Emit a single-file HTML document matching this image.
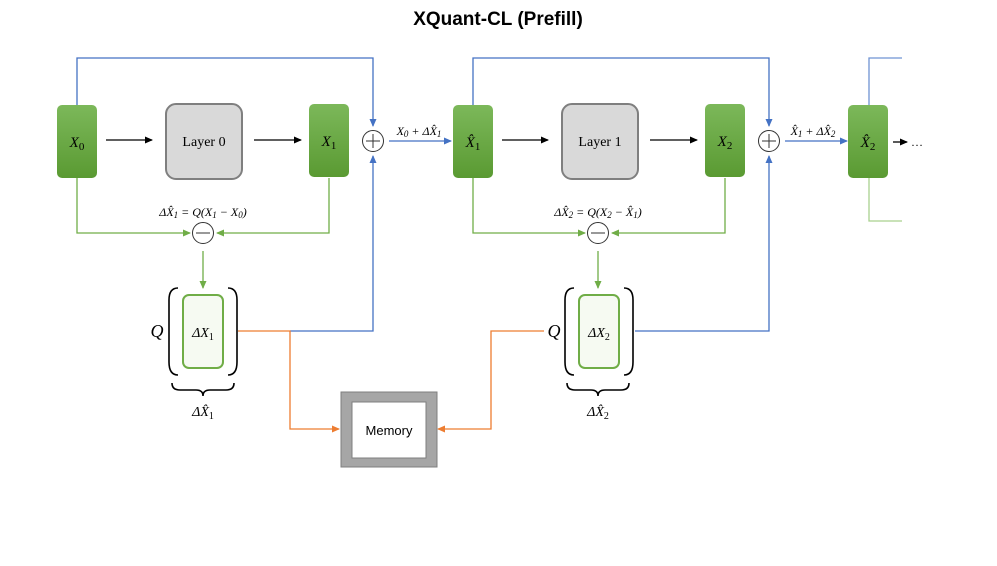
<!DOCTYPE html>
<html><head><meta charset="utf-8"><style>
body{margin:0;background:#fff}
svg text{font-family:"Liberation Serif",serif}
</style></head><body>
<svg width="997" height="561" viewBox="0 0 997 561" xmlns="http://www.w3.org/2000/svg">
<defs>
<linearGradient id="g" x1="0" y1="0" x2="0" y2="1"><stop offset="0" stop-color="#7cb85a"/><stop offset="1" stop-color="#5a9a32"/></linearGradient>
<marker id="ab" markerWidth="8" markerHeight="8" refX="7" refY="4" orient="auto" markerUnits="userSpaceOnUse"><path d="M0,0.5 L8,4 L0,7.5z" fill="#4472c4"/></marker>
<marker id="ag" markerWidth="8" markerHeight="8" refX="7" refY="4" orient="auto" markerUnits="userSpaceOnUse"><path d="M0,0.5 L8,4 L0,7.5z" fill="#70ad47"/></marker>
<marker id="ao" markerWidth="8" markerHeight="8" refX="7" refY="4" orient="auto" markerUnits="userSpaceOnUse"><path d="M0,0.5 L8,4 L0,7.5z" fill="#ed7d31"/></marker>
<marker id="ak" markerWidth="8" markerHeight="8" refX="7" refY="4" orient="auto" markerUnits="userSpaceOnUse"><path d="M0,0.5 L8,4 L0,7.5z" fill="#000"/></marker>
</defs>
<text x="498" y="25" text-anchor="middle" font-weight="bold" font-size="19" style="font-family:'Liberation Sans',sans-serif">XQuant-CL (Prefill)</text>
<g fill="none" stroke-width="1.3">
<polyline points="77,105 77,58 373,58 373,126" stroke="#4472c4" marker-end="url(#ab)"/>
<polyline points="473,105 473,58 769,58 769,126" stroke="#4472c4" marker-end="url(#ab)"/>
<polyline points="869,105 869,58 902,58" stroke="#6f93d3"/>
<line x1="389" y1="141" x2="451" y2="141" stroke="#4472c4" marker-end="url(#ab)"/>
<line x1="785" y1="141" x2="847" y2="141" stroke="#4472c4" marker-end="url(#ab)"/>
<polyline points="290,331 373,331 373,156" stroke="#4472c4" marker-end="url(#ab)"/>
<polyline points="635,331 769,331 769,156" stroke="#4472c4" marker-end="url(#ab)"/>
<polyline points="238,331 290,331 290,429 339,429" stroke="#ed7d31" marker-end="url(#ao)"/>
<polyline points="544,331 491,331 491,429 438,429" stroke="#ed7d31" marker-end="url(#ao)"/>
<polyline points="77,178 77,233 190,233" stroke="#70ad47" marker-end="url(#ag)"/>
<polyline points="329,178 329,233 217,233" stroke="#70ad47" marker-end="url(#ag)"/>
<line x1="203" y1="251" x2="203" y2="288" stroke="#70ad47" marker-end="url(#ag)"/>
<polyline points="473,178 473,233 585,233" stroke="#70ad47" marker-end="url(#ag)"/>
<polyline points="725,178 725,233 612,233" stroke="#70ad47" marker-end="url(#ag)"/>
<line x1="598" y1="251" x2="598" y2="288" stroke="#70ad47" marker-end="url(#ag)"/>
<polyline points="869,178 869,221 902,221" stroke="#a9d18e"/>
<line x1="106" y1="140" x2="152" y2="140" stroke="#000" marker-end="url(#ak)"/>
<line x1="254" y1="140" x2="301" y2="140" stroke="#000" marker-end="url(#ak)"/>
<line x1="502" y1="140" x2="548" y2="140" stroke="#000" marker-end="url(#ak)"/>
<line x1="650" y1="140" x2="697" y2="140" stroke="#000" marker-end="url(#ak)"/>
<line x1="893" y1="142" x2="907" y2="142" stroke="#000" marker-end="url(#ak)"/>
</g>
<rect x="57" y="105" width="40" height="73" rx="5" fill="url(#g)"/>
<rect x="309" y="104" width="40" height="73" rx="5" fill="url(#g)"/>
<rect x="453" y="105" width="40" height="73" rx="5" fill="url(#g)"/>
<rect x="705" y="104" width="40" height="73" rx="5" fill="url(#g)"/>
<rect x="848" y="105" width="40" height="73" rx="5" fill="url(#g)"/>
<rect x="166" y="104" width="76" height="75" rx="10" fill="#d9d9d9" stroke="#7f7f7f" stroke-width="2"/>
<rect x="562" y="104" width="76" height="75" rx="10" fill="#d9d9d9" stroke="#7f7f7f" stroke-width="2"/>
<g font-style="italic" font-size="15" text-anchor="middle">
<text x="77" y="147">X<tspan font-size="11" dy="3" font-style="normal">0</tspan></text>
<text x="329" y="146">X<tspan font-size="11" dy="3" font-style="normal">1</tspan></text>
<text x="473" y="147">X̂<tspan font-size="11" dy="3" font-style="normal">1</tspan></text>
<text x="725" y="146">X<tspan font-size="11" dy="3" font-style="normal">2</tspan></text>
<text x="868" y="147">X̂<tspan font-size="11" dy="3" font-style="normal">2</tspan></text>
</g>
<text x="204" y="146" text-anchor="middle" font-size="14">Layer 0</text>
<text x="600" y="146" text-anchor="middle" font-size="14">Layer 1</text>
<text x="911" y="146" font-size="12">…</text>
<g fill="#fff" stroke="#333" stroke-width="1">
<circle cx="373" cy="141" r="10.5"/><circle cx="769" cy="141" r="10.5"/>
<circle cx="203" cy="233" r="10.5"/><circle cx="598" cy="233" r="10.5"/>
</g>
<g stroke="#333" stroke-width="1">
<path d="M366,141h14M373,134v14M762,141h14M769,134v14M196,233h14M591,233h14"/>
</g>
<g font-size="12" font-style="italic" text-anchor="middle">
<text x="419" y="135">X<tspan font-size="9" dy="2">0</tspan><tspan dy="-2"> + ΔX̂</tspan><tspan font-size="9" dy="2">1</tspan></text>
<text x="813" y="135">X̂<tspan font-size="9" dy="2">1</tspan><tspan dy="-2"> + ΔX̂</tspan><tspan font-size="9" dy="2">2</tspan></text>
<text x="203" y="216">ΔX̂<tspan font-size="9" dy="2">1</tspan><tspan dy="-2"> = Q(X</tspan><tspan font-size="9" dy="2">1</tspan><tspan dy="-2"> − X</tspan><tspan font-size="9" dy="2">0</tspan><tspan dy="-2">)</tspan></text>
<text x="598" y="216">ΔX̂<tspan font-size="9" dy="2">2</tspan><tspan dy="-2"> = Q(X</tspan><tspan font-size="9" dy="2">2</tspan><tspan dy="-2"> − X̂</tspan><tspan font-size="9" dy="2">1</tspan><tspan dy="-2">)</tspan></text>
</g>
<rect x="183" y="295" width="40" height="73" rx="6" fill="#f6faf2" stroke="#70ad47" stroke-width="2"/>
<rect x="579" y="295" width="40" height="73" rx="6" fill="#f6faf2" stroke="#70ad47" stroke-width="2"/>
<g fill="none" stroke="#000" stroke-width="1.6">
<path d="M178,288 Q169,288 169,300 V362 Q169,375 178,375"/>
<path d="M228,288 Q237,288 237,300 V362 Q237,375 228,375"/>
<path d="M574,288 Q565,288 565,300 V362 Q565,375 574,375"/>
<path d="M624,288 Q633,288 633,300 V362 Q633,375 624,375"/>
<path d="M172,383 Q172,390 180,390 H196 Q203,390 203,396 Q203,390 210,390 H226 Q234,390 234,383"/>
<path d="M567,383 Q567,390 575,390 H591 Q598,390 598,396 Q598,390 605,390 H621 Q629,390 629,383"/>
</g>
<g font-style="italic" text-anchor="middle">
<text x="203" y="337" font-size="14">ΔX<tspan font-size="10" dy="3" font-style="normal">1</tspan></text>
<text x="599" y="337" font-size="14">ΔX<tspan font-size="10" dy="3" font-style="normal">2</tspan></text>
<text x="157" y="337" font-size="18">Q</text>
<text x="554" y="337" font-size="18">Q</text>
<text x="203" y="416" font-size="14">ΔX̂<tspan font-size="10" dy="3" font-style="normal">1</tspan></text>
<text x="598" y="416" font-size="14">ΔX̂<tspan font-size="10" dy="3" font-style="normal">2</tspan></text>
</g>
<rect x="341" y="392" width="96" height="75" fill="#a6a6a6" stroke="#7f7f7f"/>
<rect x="352" y="402" width="74" height="56" fill="#fff" stroke="#7f7f7f"/>
<text x="389" y="435" text-anchor="middle" font-size="13" style="font-family:'Liberation Sans',sans-serif">Memory</text>
</svg>
</body></html>
